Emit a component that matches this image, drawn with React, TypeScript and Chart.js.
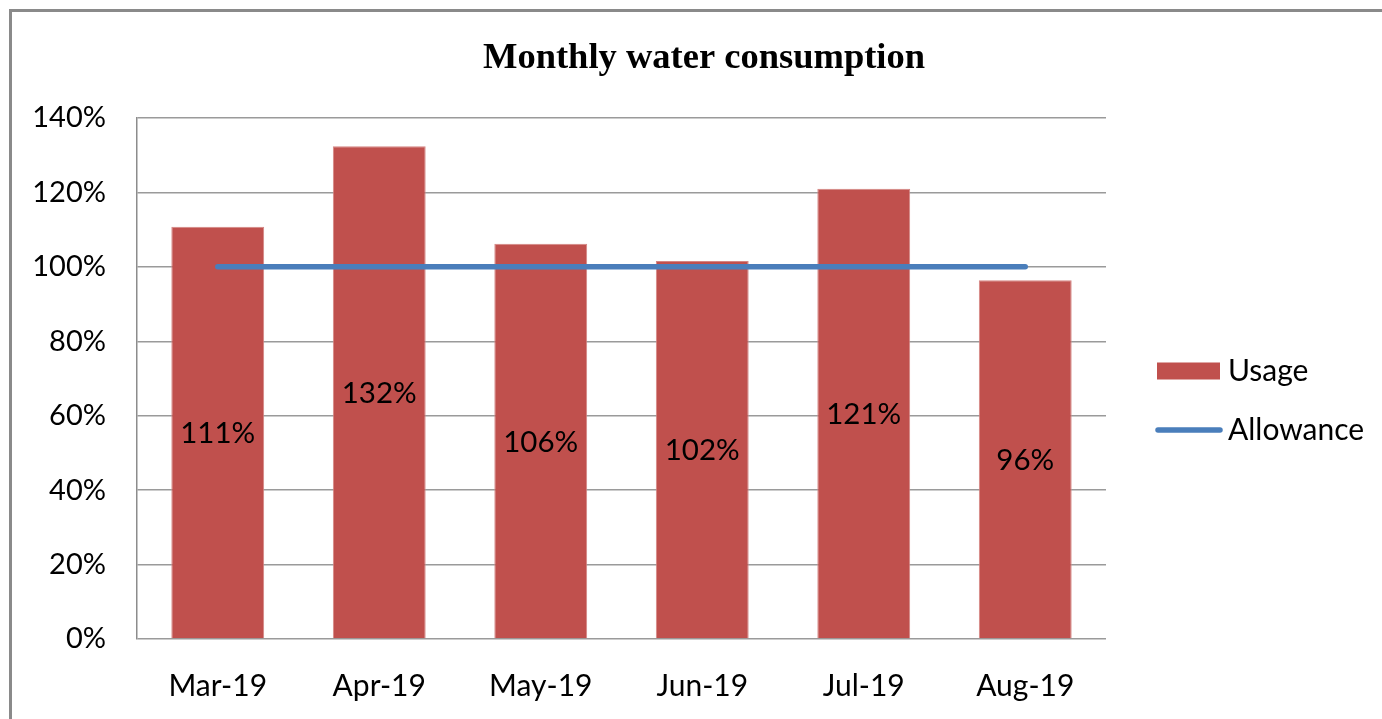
import React, { useEffect, useRef } from "react";
import { Chart, registerables } from "chart.js";

Chart.register(...registerables);

const months = ["Mar-19", "Apr-19", "May-19", "Jun-19", "Jul-19", "Aug-19"];
const usage = [110.8, 132.4, 106.2, 101.6, 121.0, 96.4];
const allowance = [100, 100, 100, 100, 100, 100];
const yTicks = [0, 20, 40, 60, 80, 100, 120, 140];

const W = 1408;
const H = 760;
const FONT = "Lato";

const valueLabels = {
  id: "valueLabels",
  afterDatasetsDraw(chart: any) {
    const meta = chart.getDatasetMeta(0);
    const ctx = chart.ctx;
    ctx.save();
    ctx.font = `29.5px ${FONT}`;
    ctx.fillStyle = "#000";
    ctx.textAlign = "center";
    ctx.textBaseline = "middle";
    meta.data.forEach((el: any, i: number) => {
      const v = chart.data.datasets[0].data[i];
      ctx.fillText(Math.round(v) + "%", el.x, (el.y + el.base) / 2 + 1);
    });
    ctx.restore();
  },
};

const sideLegend = {
  id: "sideLegend",
  afterDraw(chart: any) {
    const { ctx, chartArea } = chart;
    const ds = chart.data.datasets;
    const x0 = chartArea.right + 51;
    const rows = [chartArea.top + 253, chartArea.top + 312];
    ctx.save();
    ctx.font = `30px ${FONT}`;
    ctx.textBaseline = "middle";
    ctx.textAlign = "left";
    ctx.fillStyle = ds[0].backgroundColor;
    ctx.fillRect(x0, rows[0] - 8.5, 63, 17);
    ctx.strokeStyle = ds[1].borderColor;
    ctx.lineWidth = ds[1].borderWidth;
    ctx.lineCap = "round";
    ctx.beginPath();
    ctx.moveTo(x0 + 1, rows[1]);
    ctx.lineTo(x0 + 63, rows[1]);
    ctx.stroke();
    ctx.fillStyle = "#000";
    ctx.fillText(ds[0].label, x0 + 71, rows[0]);
    ctx.fillText(ds[1].label, x0 + 71, rows[1]);
    ctx.restore();
  },
};

export default function App() {
  const ref = useRef<HTMLCanvasElement>(null);
  useEffect(() => {
    if (!ref.current) return;
    const chart = new Chart(ref.current, {
      type: "bar",
      data: {
        labels: months,
        datasets: [
          {
            type: "bar",
            label: "Usage",
            data: usage,
            backgroundColor: "#C0504D",
            borderColor: "#D48583",
            borderWidth: 1,
            categoryPercentage: 1,
            barPercentage: 0.575,
            order: 1,
          } as any,
          {
            type: "line",
            label: "Allowance",
            data: allowance,
            borderColor: "#4A7EBB",
            backgroundColor: "#4A7EBB",
            borderWidth: 5.5,
            borderCapStyle: "round",
            pointRadius: 0,
            fill: false,
            order: 0,
          } as any,
        ],
      },
      options: {
        responsive: false,
        animation: false,
        events: [],
        layout: { padding: 0 },
        plugins: {
          legend: { display: false },
          tooltip: { enabled: false },
          title: {
            display: true,
            text: "Monthly water consumption",
            color: "#000",
            font: { family: "Liberation Serif", size: 36.5, weight: "bold" },
            padding: { top: 37, bottom: 37.2 },
          },
        },
        scales: {
          x: {
            grid: { display: false },
            border: { display: false },
            ticks: {
              color: "#000",
              font: { family: FONT, size: 30 },
              padding: 21,
            },
            afterFit: (s: any) => {
              s.height = H - 639;
            },
          },
          y: {
            position: "left",
            min: 0,
            max: 140,
            afterBuildTicks: (s: any) => {
              s.ticks = yTicks.map((v) => ({ value: v }));
            },
            ticks: {
              color: "#000",
              font: { family: FONT, size: 29 },
              padding: 31,
              callback: (v: any) => v + "%",
            },
            grid: { color: "#9a9a9a", lineWidth: 1.5, drawTicks: false },
            border: { display: true, color: "#8c8c8c", width: 1.5 },
            afterFit: (s: any) => {
              s.width = 137;
            },
          },
          y1: {
            position: "right",
            display: true,
            min: 0,
            max: 140,
            grid: { display: false },
            border: { display: false },
            ticks: { display: false },
            afterFit: (s: any) => {
              s.width = W - 1106;
            },
          },
        },
      },
      plugins: [valueLabels, sideLegend],
    });
    return () => chart.destroy();
  }, []);

  return (
    <div
      style={{
        position: "fixed",
        left: 0,
        top: 0,
        width: 1382,
        height: 719,
        overflow: "hidden",
        background: "#fff",
      }}
    >
      <canvas
        ref={ref}
        width={W}
        height={H}
        style={{ position: "absolute", left: 0, top: 0, width: W, height: H }}
      />
      <div
        style={{
          position: "absolute",
          left: 9,
          top: 9,
          width: 1400,
          height: 740,
          borderLeft: "3px solid #8a8a8a",
          borderTop: "3px solid #8a8a8a",
          pointerEvents: "none",
        }}
      />
    </div>
  );
}
